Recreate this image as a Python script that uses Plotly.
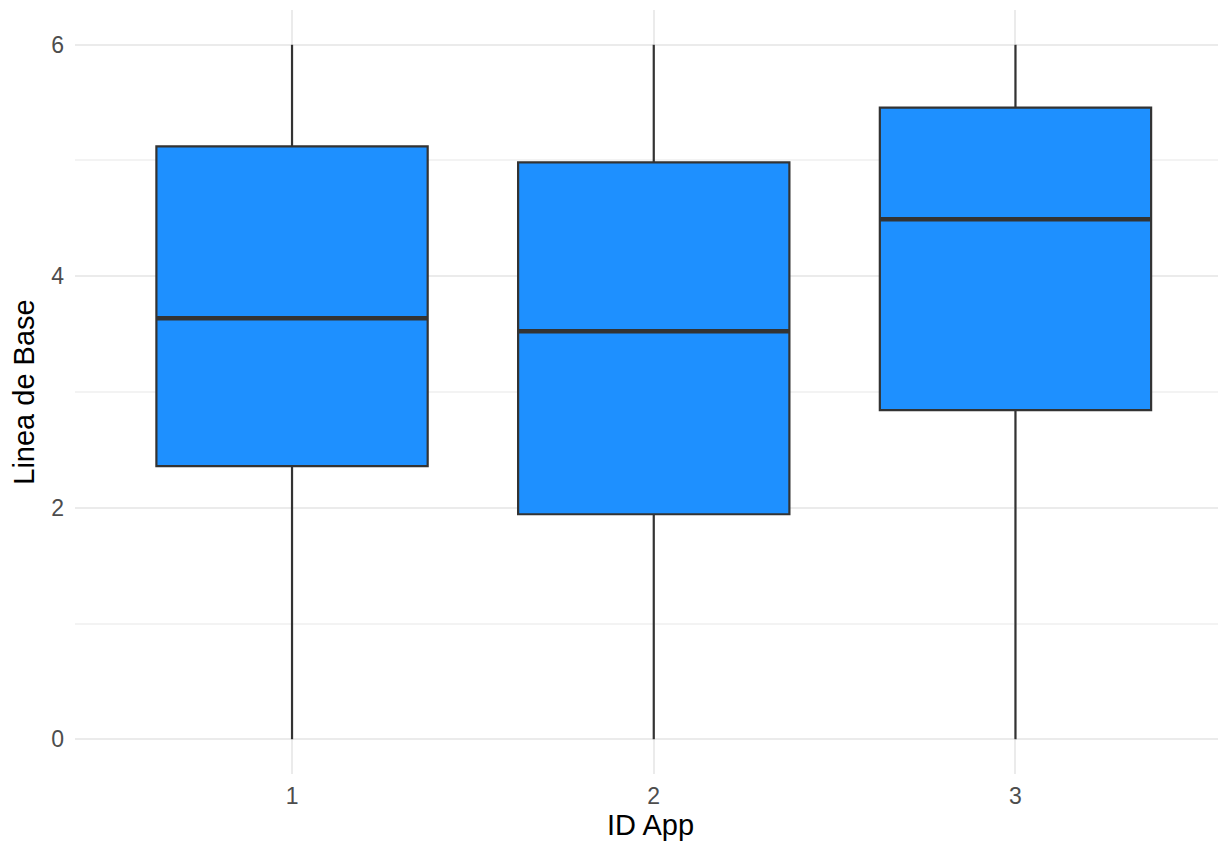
import plotly.graph_objects as go

apps = [1, 2, 3]
tick_labels = ["1", "2", "3"]
lower = [0.0, 0.0, 0.0]
q1 = [2.359, 1.944, 2.843]
median = [3.637, 3.525, 4.492]
q3 = [5.122, 4.984, 5.456]
upper = [6.0, 6.0, 6.0]

BOX_W = 0.75
fig = go.Figure()
for i, a in enumerate(apps):
    fig.add_trace(go.Box(
        x=[a], q1=[q1[i]], median=[median[i]], q3=[q3[i]],
        lowerfence=[lower[i]], upperfence=[upper[i]],
        width=BOX_W, whiskerwidth=0,
        fillcolor="#1E90FF", line=dict(color="#333333", width=2.2),
        showlegend=False, hoverinfo="skip", boxpoints=False,
    ))
    fig.add_trace(go.Scatter(
        x=[a - BOX_W / 2, a + BOX_W / 2], y=[median[i], median[i]],
        mode="lines", line=dict(color="#333333", width=4.5),
        showlegend=False, hoverinfo="skip",
    ))

# page body has an 8px margin, so the figure is offset by (8, 8)
fig.update_layout(
    width=1218, height=837,
    margin=dict(l=67, r=0, t=2, b=71),
    paper_bgcolor="white", plot_bgcolor="white",
    font=dict(family="Liberation Sans, Arial, sans-serif", color="#4D4D4D"),
    xaxis=dict(
        range=[0.4, 3.582], tickvals=apps, ticktext=tick_labels,
        showgrid=True, gridcolor="#EBEBEB", gridwidth=2,
        zeroline=False, showline=False, ticks="",
        ticklabelstandoff=6,
        tickfont=dict(size=23, color="#4D4D4D"),
        title=dict(text="ID App", font=dict(size=29, color="black"), standoff=6),
    ),
    yaxis=dict(
        range=[-0.3, 6.3], tickvals=[0, 2, 4, 6],
        showgrid=True, gridcolor="#EBEBEB", gridwidth=2,
        minor=dict(dtick=1, showgrid=True, gridcolor="#F3F3F3", gridwidth=1.5),
        zeroline=False, showline=False, ticks="",
        ticklabelstandoff=10,
        tickfont=dict(size=23, color="#4D4D4D"),
        title=dict(text="Linea de Base", font=dict(size=29, color="black"), standoff=8),
    ),
)
fig.write_html("out.html")
